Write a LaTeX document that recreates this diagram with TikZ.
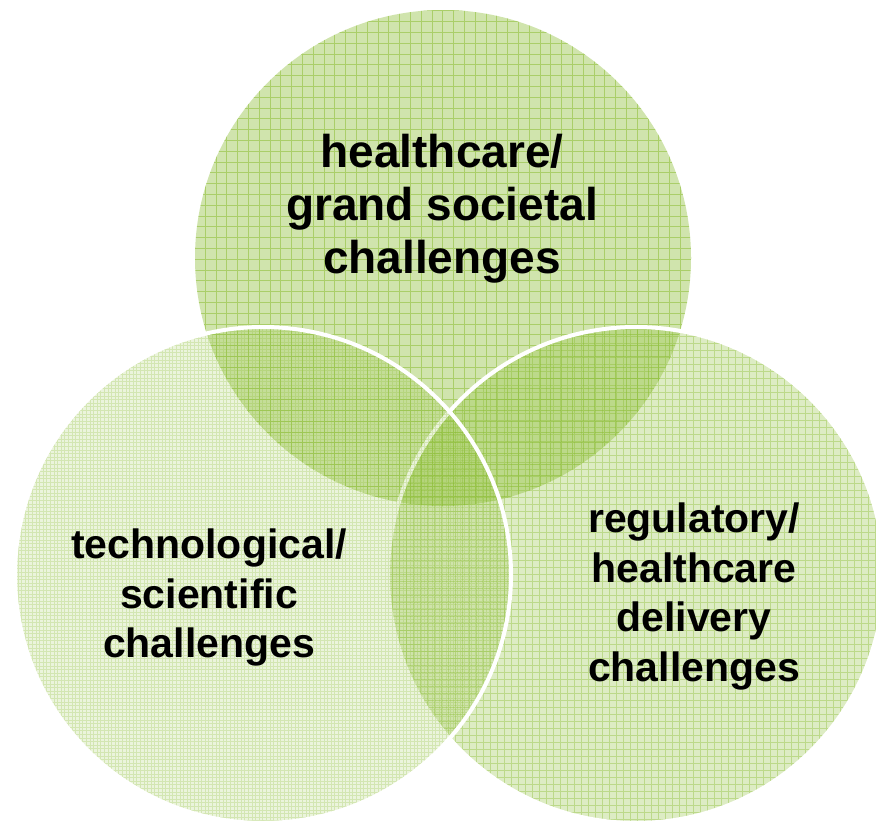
\documentclass[tikz,border=0pt]{standalone}
\usepackage{fontspec}
\setmainfont{Liberation Sans}
\definecolor{vgreen}{RGB}{138,188,50}
\begin{document}
\begin{tikzpicture}[x=1pt,y=-1pt,
  disc/.style={fill=vgreen, fill opacity=#1},
  mesh/.style={draw=vgreen, draw opacity=#1, line width=0.9pt},
  rim/.style={draw=white, line width=4pt},
  biglabel/.style={inner sep=0pt, align=center, text=black,
    font=\bfseries\fontsize{46}{53}\selectfont},
  label/.style={inner sep=0pt, align=center, text=black,
    font=\bfseries\fontsize{41}{49.5}\selectfont}]
\useasboundingbox (0,0) rectangle (876,830);

\coordinate (ct) at (443,258);
\coordinate (cr) at (636,575);
\coordinate (cl) at (263,575);

% upper circle: coarse grid, no rim
\fill[disc=0.4] (ct) circle[radius=248];
\begin{scope}
  \clip (ct) circle[radius=248];
  \draw[mesh=0.55, step=10.8pt] (180,520) grid (710,0);
\end{scope}

% right circle: medium grid
\fill[disc=0.29] (cr) circle[radius=248];
\begin{scope}
  \clip (cr) circle[radius=248];
  \draw[mesh=0.4, step=7pt] (380,830) grid (890,320);
\end{scope}
\draw[rim] (cr) circle[radius=248];

% left circle: fine grid
\fill[disc=0.17] (cl) circle[radius=248];
\begin{scope}
  \clip (cl) circle[radius=248];
  \draw[mesh=0.25, step=3.6pt, line width=0.7pt] (10,830) grid (520,320);
\end{scope}
\draw[rim] (cl) circle[radius=248];

\node[biglabel] (top) at (442,209) {healthcare/\\grand societal\\challenges};
\node[label] (left) at (209,597.5) {technological/\\scientific\\challenges};
\node[label] (right) at (694,596.5) {regulatory/\\healthcare\\delivery\\challenges};
\end{tikzpicture}
\end{document}
